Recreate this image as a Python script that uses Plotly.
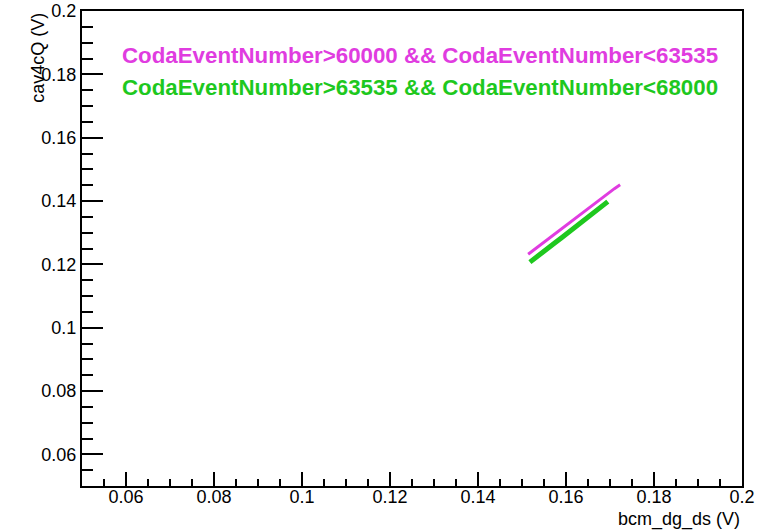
import plotly.graph_objects as go

# Cut selections on CodaEventNumber
sel_labels = [
    "CodaEventNumber>60000 && CodaEventNumber<63535",
    "CodaEventNumber>63535 && CodaEventNumber<68000",
]
sel_colors = ["#e03ce0", "#1ec81e"]

# bcm_dg_ds vs cav4cQ, first selection
bcm_a = [0.1514, 0.1530, 0.1545, 0.1560, 0.1575, 0.1590, 0.1605, 0.1620,
         0.1635, 0.1650, 0.1665, 0.1680, 0.1695, 0.1710, 0.1723]
cav_a = [0.1232, 0.1249, 0.1264, 0.1281, 0.1296, 0.1312, 0.1327, 0.1344,
         0.1359, 0.1375, 0.1390, 0.1407, 0.1422, 0.1439, 0.1451]

# bcm_dg_ds vs cav4cQ, second selection
bcm_b = [0.1518, 0.1530, 0.1545, 0.1560, 0.1575, 0.1590, 0.1605, 0.1620,
         0.1635, 0.1650, 0.1665, 0.1680, 0.1695]
cav_b = [0.1207, 0.1219, 0.1236, 0.1251, 0.1268, 0.1284, 0.1301, 0.1317,
         0.1334, 0.1349, 0.1366, 0.1382, 0.1398]

# Axis ticks
x_ticks = [0.06, 0.08, 0.10, 0.12, 0.14, 0.16, 0.18, 0.20]
x_ticktext = ["0.06", "0.08", "0.1", "0.12", "0.14", "0.16", "0.18", "0.2"]
y_ticks = [0.06, 0.08, 0.10, 0.12, 0.14, 0.16, 0.18, 0.20]
y_ticktext = ["0.06", "0.08", "0.1", "0.12", "0.14", "0.16", "0.18", "0.2"]

x_title = "bcm_dg_ds (V)"
y_title = "cav4cQ (V)"

FONT = "Liberation Sans, Arial, Helvetica, sans-serif"

fig = go.Figure()
fig.add_trace(go.Scatter(x=bcm_a, y=cav_a, mode="lines",
                         line=dict(color=sel_colors[0], width=3),
                         showlegend=False, hoverinfo="skip"))
fig.add_trace(go.Scatter(x=bcm_b, y=cav_b, mode="lines",
                         line=dict(color=sel_colors[1], width=5),
                         showlegend=False, hoverinfo="skip"))

axis_common = dict(
    showgrid=False, zeroline=False, automargin=False,
    showline=True, linecolor="black", linewidth=2, mirror=True,
    ticks="inside", tickcolor="black", tickwidth=2,
    ticklabeloverflow="allow",
    tickfont=dict(family=FONT, size=18, color="black"),
)

fig.update_xaxes(range=[0.05, 0.2], tickvals=x_ticks, ticktext=x_ticktext,
                 ticklen=14, ticklabelstandoff=-7,
                 minor=dict(dtick=0.005, tick0=0.05, ticks="inside", ticklen=7,
                            tickwidth=2, tickcolor="black"),
                 **axis_common)
fig.update_yaxes(range=[0.05, 0.2], tickvals=y_ticks, ticktext=y_ticktext,
                 ticklen=21,
                 minor=dict(dtick=0.005, tick0=0.05, ticks="inside", ticklen=11,
                            tickwidth=2, tickcolor="black"),
                 **axis_common)

annotations = [
    dict(text=x_title, xref="paper", yref="paper", x=1.0, y=-0.071,
         xanchor="right", yanchor="middle", showarrow=False,
         font=dict(family=FONT, size=18, color="black")),
    dict(text=y_title, xref="paper", yref="paper", x=-0.067, y=1.0,
         xanchor="center", yanchor="top", textangle=-90, showarrow=False,
         font=dict(family=FONT, size=18, color="black")),
]
for i, (lab, col) in enumerate(zip(sel_labels, sel_colors)):
    annotations.append(dict(
        text="<b>" + lab + "</b>", xref="paper", yref="paper",
        x=0.057, y=0.907 - 0.069 * i, xanchor="left", yanchor="middle",
        showarrow=False, font=dict(family=FONT, size=22.3, color=col)))

fig.update_layout(
    width=766, height=530,
    margin=dict(l=82, r=24, t=11, b=44),
    paper_bgcolor="white", plot_bgcolor="white",
    annotations=annotations,
)

fig.write_html("out.html")
